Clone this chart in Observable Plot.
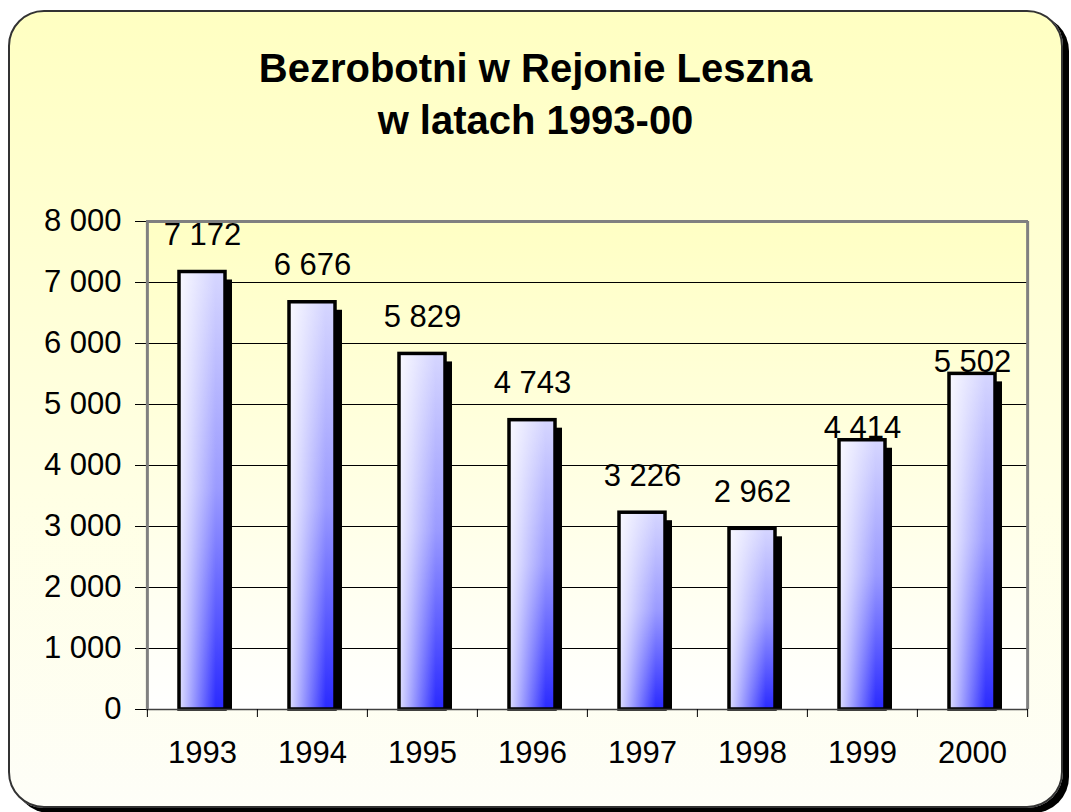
<!DOCTYPE html>
<html>
<head>
<meta charset="utf-8">
<script src="https://cdn.jsdelivr.net/npm/d3@7"></script>
<script src="https://cdn.jsdelivr.net/npm/@observablehq/plot@0.6"></script>
<style>
  html, body { margin: 0; padding: 0; background: #ffffff; }
  body { width: 1071px; height: 812px; position: relative; overflow: hidden; font-family: "Liberation Sans", Arial, sans-serif; }
  #card {
    position: absolute; left: 8px; top: 10px; width: 1051px; height: 794px;
    border: 2px solid #333; border-radius: 36px;
    background: linear-gradient(to bottom, #ffffc2 0%, #ffffe4 60%, #fefef8 100%);
    box-shadow: 6px 5px 0 #000;
  }
  #title {
    position: absolute; left: 0; top: 42px; width: 1071px; text-align: center;
    font-weight: bold; font-size: 40px; line-height: 52px; color: #000;
  }
  #chart { position: absolute; left: 0; top: 200px; }
</style>
</head>
<body>
<div id="card"></div>
<div id="title">Bezrobotni w Rejonie Leszna<br>w latach 1993-00</div>
<div id="chart"></div>
<script>
const years = ["1993", "1994", "1995", "1996", "1997", "1998", "1999", "2000"];
const unemployed = [7172, 6676, 5829, 4743, 3226, 2962, 4414, 5502];
const yTicks = [0, 1000, 2000, 3000, 4000, 5000, 6000, 7000, 8000];

const data = years.map((y, i) => ({year: y, value: unemployed[i]}));
const fmt = v => d3.format(",")(v).replace(/,/g, "\u00a0");

const W = 1071, H = 612;
const mL = 146, mR = 43, mT = 21, mB = 103;
const step = (W - mL - mR) / years.length;
const FS = 31;

const chart = Plot.plot({
  width: W, height: H,
  marginLeft: mL, marginRight: mR, marginTop: mT, marginBottom: mB,
  style: {background: "transparent", fontFamily: "Liberation Sans, Arial, sans-serif", fontSize: FS + "px", color: "#000"},
  x: {domain: years, paddingInner: 0.58, paddingOuter: 0.29, label: null},
  y: {domain: [0, 8000], label: null},
  marks: [
    Plot.frame({fill: "url(#plotBg)", stroke: "none"}),
    Plot.ruleY(yTicks.filter(d => d > 0 && d < 8000), {stroke: "#000", strokeWidth: 1}),
    // shadow
    Plot.barY(data, {x: "year", y: "value", fill: "#000", dx: 7, dy: 8, clip: true}),
    // bars
    Plot.barY(data, {x: "year", y: "value", fill: "url(#barGradV)"}),
    Plot.barY(data, {x: "year", y: "value", fill: "url(#barGradH)"}),
    Plot.barY(data, {x: "year", y: "value", fill: "none", stroke: "#000", strokeWidth: 3.5}),
    // frame edges
    Plot.ruleY([8000], {stroke: "#808080", strokeWidth: 3}),
    Plot.ruleX([years[years.length - 1]], {x: d => d, dx: step / 2, y1: 0, y2: 8000, stroke: "#808080", strokeWidth: 3}),
    Plot.ruleY([0], {stroke: "#404040", strokeWidth: 1.5}),
    // x ticks at category boundaries
    Plot.ruleX(years, {x: d => d, dx: -step / 2, y1: 0, y2: 0, insetBottom: -8, stroke: "#000"}),
    Plot.ruleX([years[years.length - 1]], {x: d => d, dx: step / 2, y1: 0, y2: 0, insetBottom: -8, stroke: "#000"}),
    Plot.axisY(yTicks, {tickSize: 11, tickPadding: 14, tickFormat: fmt, fontSize: FS, stroke: "#000"}),
    Plot.ruleX([years[0]], {x: d => d, dx: -step / 2, y1: 0, y2: 8000, stroke: "#808080", strokeWidth: 3}),
    Plot.axisX({tickSize: 0, tickPadding: 31, fontSize: FS}),
    // value labels
    Plot.text(data.filter(d => d.year !== "1999" && d.year !== "2000"), {x: "year", y: "value", text: d => fmt(d.value), dy: -37, fontSize: FS}),
    Plot.text(data.filter(d => d.year === "1999" || d.year === "2000"), {x: "year", y: "value", text: d => fmt(d.value), dy: -12, fontSize: FS})
  ]
});

const svg = d3.select(chart);
const defs = svg.insert("defs", ":first-child");
const gv = defs.append("linearGradient").attr("id", "barGradV").attr("x1", 0).attr("y1", 0).attr("x2", 0).attr("y2", 1);
gv.append("stop").attr("offset", "0%").attr("stop-color", "#d6d6ff");
gv.append("stop").attr("offset", "50%").attr("stop-color", "#9a9aff");
gv.append("stop").attr("offset", "100%").attr("stop-color", "#2a2aff");
const gh = defs.append("linearGradient").attr("id", "barGradH").attr("x1", 0).attr("y1", 0).attr("x2", 1).attr("y2", 0);
gh.append("stop").attr("offset", "0%").attr("stop-color", "#ffffff").attr("stop-opacity", 0.85);
gh.append("stop").attr("offset", "80%").attr("stop-color", "#ffffff").attr("stop-opacity", 0);
const gb = defs.append("linearGradient").attr("id", "plotBg").attr("x1", 0).attr("y1", 0).attr("x2", 0).attr("y2", 1);
gb.append("stop").attr("offset", "0%").attr("stop-color", "#ffffc4");
gb.append("stop").attr("offset", "100%").attr("stop-color", "#ffffff");

document.getElementById("chart").appendChild(chart);
</script>
</body>
</html>
